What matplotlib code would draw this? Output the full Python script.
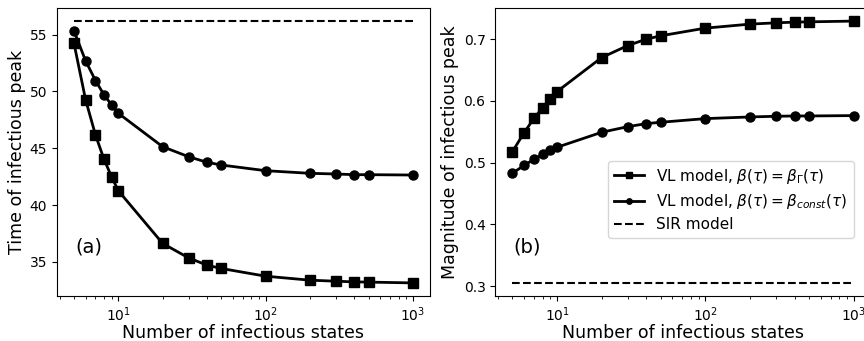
import matplotlib
matplotlib.use("Agg")
import matplotlib.pyplot as plt

N = [5, 6, 7, 8, 9, 10, 20, 30, 40, 50, 100, 200, 300, 400, 500, 1000]

time_gamma = [54.24, 49.25, 46.16, 44.02, 42.49, 41.26, 36.62, 35.35, 34.71, 34.42,
              33.74, 33.39, 33.30, 33.24, 33.22, 33.15]
time_const = [55.33, 52.68, 50.95, 49.69, 48.81, 48.07, 45.13, 44.25, 43.76, 43.52,
              43.02, 42.79, 42.73, 42.67, 42.67, 42.64]
time_sir = 56.18

mag_gamma = [0.5177, 0.5486, 0.5719, 0.5891, 0.6032, 0.6151, 0.6702, 0.6896, 0.7000, 0.7054,
             0.7178, 0.7243, 0.7264, 0.7275, 0.7280, 0.7292]
mag_const = [0.4827, 0.4957, 0.5054, 0.5135, 0.5200, 0.5249, 0.5492, 0.5583, 0.5632, 0.5654,
             0.5713, 0.5740, 0.5751, 0.5756, 0.5756, 0.5762]
mag_sir = 0.3053

labels = [r'VL model, $\beta(\tau) = \beta_\Gamma(\tau)$',
          r'VL model, $\beta(\tau) = \beta_{const}(\tau)$',
          'SIR model']

fig = plt.figure(figsize=(8.64, 3.41), dpi=100)
ax1 = fig.add_axes([57/864, 1-296/341, 373/864, 288/341])
ax2 = fig.add_axes([495.3/864, 1-296/341, 375.5/864, 288/341])

for ax, g, c, s, tag, ylab in [
        (ax1, time_gamma, time_const, time_sir, '(a)', 'Time of infectious peak'),
        (ax2, mag_gamma, mag_const, mag_sir, '(b)', 'Magnitude of infectious peak')]:
    ax.plot(N, g, '-s', color='black', lw=2, ms=7, label=labels[0])
    ax.plot(N, c, '-o', color='black', lw=2, ms=6.5, label=labels[1])
    ax.plot([N[0], N[-1]], [s, s], '--', color='black', lw=1.5, label=labels[2])
    ax.set_xscale('log')
    ax.set_xlabel('Number of infectious states', fontsize=12.5, labelpad=-0.5)
    ax.set_ylabel(ylab, fontsize=12.5, labelpad=3)
    ax.tick_params(labelsize=10)
    ax.text(0.048, 0.17, tag, transform=ax.transAxes, fontsize=14, ha='left', va='center')

ax2.legend(loc='lower right', bbox_to_anchor=(0.955, 0.201), borderaxespad=0,
           fontsize=11, markerscale=0.6, labelspacing=0.4)

fig.savefig('out.png', dpi=100)
